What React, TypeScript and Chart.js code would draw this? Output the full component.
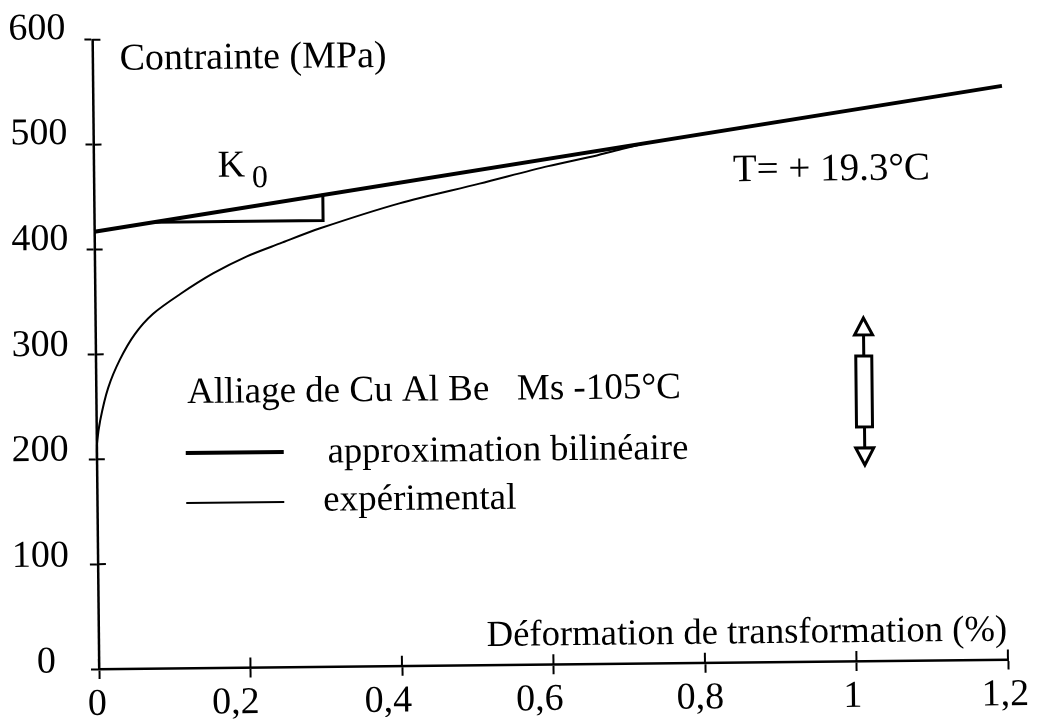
import React, { useEffect, useRef } from "react";
import { Chart, registerables } from "chart.js";

Chart.register(...registerables);

const FONT = '"Liberation Serif", "Times New Roman", serif';

// Data
const yTicks = ["0", "100", "200", "300", "400", "500", "600"];
const xTickLabels = ["0", "0,2", "0,4", "0,6", "0,8", "1", "1,2"];

const bilinearX = [0, 1.2];
const bilinearY = [417, 547];

const experimentalX = [0, 0.0005, 0.005, 0.016, 0.032, 0.052, 0.076, 0.112, 0.156, 0.201, 0.245, 0.298, 0.403, 0.509, 0.6, 0.66, 0.7, 0.73];
const experimentalY = [201, 215, 237, 268, 295, 319, 338, 356.5, 376, 392, 404, 418, 441, 459, 475, 484, 491, 496];

const slopeX = [0.08, 0.302, 0.302];
const slopeY = [425.5, 425.5, 451];

const xLabelNudge = [-2, -15, -14, -14, -5, -4, -3];
const yLabelNudge = [-7, -8, -9, -9, -10, -11, -11];
const yLabelNudgeX = [-18, -4, -3, -2, -1, -1, -2];

const texts: [string, number, number, number][] = [
  ["Contrainte (MPa)", 126, 70, 38],
  ["K", 223, 178, 38],
  ["0", 257, 189, 32],
  ["T= + 19.3°C", 738, 188, 39],
  ["Alliage de Cu Al Be   Ms -105°C", 190, 404, 37],
  ["approximation bilinéaire", 330, 465, 36.6],
  ["expérimental", 325, 513, 37],
  ["Déformation de transformation (%)", 487, 650, 36.7],
];

const TILT = (-0.6 * Math.PI) / 180;
const PIVOT_X = 99;
const PIVOT_Y = 669;

const scanPlugin = {
  id: "scan",
  beforeDraw(chart: any) {
    const { ctx } = chart;
    ctx.save();
    ctx.translate(PIVOT_X, PIVOT_Y);
    ctx.rotate(TILT);
    ctx.translate(-PIVOT_X, -PIVOT_Y);
    chart.scales.x.getLabelItems().forEach((it: any, i: number) => {
      if (!it.__n) {
        it.options.translation = [it.options.translation[0] + xLabelNudge[i], it.options.translation[1]];
        it.__n = true;
      }
    });
    chart.scales.y.getLabelItems().forEach((it: any, i: number) => {
      if (!it.__n) {
        it.options.translation = [it.options.translation[0] + yLabelNudgeX[i], it.options.translation[1] + yLabelNudge[i]];
        it.__n = true;
      }
    });
  },
  afterDatasetsDraw(chart: any) {
    const { ctx, chartArea, scales } = chart;
    ctx.save();
    ctx.strokeStyle = "#000";
    ctx.fillStyle = "#000";
    ctx.lineCap = "butt";

    // inner halves of the crossing ticks
    ctx.lineWidth = 2;
    scales.y.ticks.forEach((t: any) => {
      const p = scales.y.getPixelForValue(t.value);
      ctx.beginPath();
      ctx.moveTo(chartArea.left, p);
      ctx.lineTo(chartArea.left + 8, p);
      ctx.stroke();
    });
    scales.x.ticks.forEach((t: any) => {
      const p = scales.x.getPixelForValue(t.value);
      ctx.beginPath();
      ctx.moveTo(p, chartArea.bottom);
      ctx.lineTo(p, chartArea.bottom - 10);
      ctx.stroke();
    });

    // legend samples
    ctx.lineWidth = 4;
    ctx.beginPath();
    ctx.moveTo(188, 454);
    ctx.lineTo(286, 454);
    ctx.stroke();
    ctx.lineWidth = 2;
    ctx.beginPath();
    ctx.moveTo(188, 504);
    ctx.lineTo(286, 504);
    ctx.stroke();

    // specimen icon
    const cx = 867;
    const dy = 8;
    ctx.lineWidth = 3;
    ctx.strokeRect(cx - 8, 356 + dy, 16, 71);
    ctx.beginPath();
    ctx.moveTo(cx, 356 + dy);
    ctx.lineTo(cx, 335 + dy);
    ctx.moveTo(cx, 427 + dy);
    ctx.lineTo(cx, 448 + dy);
    ctx.stroke();
    ctx.beginPath();
    ctx.moveTo(cx, 318 + dy);
    ctx.lineTo(cx - 9, 335 + dy);
    ctx.lineTo(cx + 9, 335 + dy);
    ctx.closePath();
    ctx.moveTo(cx, 465 + dy);
    ctx.lineTo(cx - 9, 448 + dy);
    ctx.lineTo(cx + 9, 448 + dy);
    ctx.closePath();
    ctx.stroke();

    // texts
    ctx.textAlign = "left";
    ctx.textBaseline = "alphabetic";
    texts.forEach(([s, x, y, size]) => {
      ctx.font = `${size}px ${FONT}`;
      ctx.fillText(s, x, y);
    });
    ctx.restore();
  },
  afterDraw(chart: any) {
    chart.ctx.restore();
  },
};

export default function App() {
  const ref = useRef<HTMLCanvasElement>(null);
  useEffect(() => {
    const chart = new Chart(ref.current as HTMLCanvasElement, {
      type: "scatter",
      data: {
        datasets: [
          {
            label: "expérimental",
            data: experimentalX.map((x, i) => ({ x, y: experimentalY[i] })),
            showLine: true,
            borderColor: "#000",
            borderWidth: 2,
            pointRadius: 0,
            tension: 0.3,
            clip: false,
          },
          {
            label: "approximation bilinéaire",
            data: bilinearX.map((x, i) => ({ x, y: bilinearY[i] })),
            showLine: true,
            borderColor: "#000",
            borderWidth: 4,
            pointRadius: 0,
            clip: false,
          },
          {
            label: "K0",
            data: slopeX.map((x, i) => ({ x, y: slopeY[i] })),
            showLine: true,
            borderColor: "#000",
            borderWidth: 3,
            pointRadius: 0,
            clip: false,
          },
        ],
      },
      options: {
        responsive: false,
        animation: false,
        layout: { padding: { top: 38, right: 35, left: 0, bottom: 0 } },
        plugins: { legend: { display: false }, tooltip: { enabled: false } },
        scales: {
          x: {
            type: "linear",
            min: 0,
            max: 1.2,
            afterFit: (s: any) => {
              s.height = 51;
            },
            border: { color: "#000", width: 2.5 },
            grid: { drawOnChartArea: false, color: "#000", tickLength: 10, tickWidth: 2 },
            ticks: {
              stepSize: 0.2,
              maxRotation: 0,
              autoSkip: false,
              color: "#000",
              font: { family: FONT, size: 38 },
              padding: 3,
              callback: (_v: any, i: number) => xTickLabels[i],
            },
          },
          y: {
            type: "linear",
            min: 0,
            max: 600,
            afterFit: (s: any) => {
              s.width = 99;
            },
            border: { color: "#000", width: 2.5 },
            grid: { drawOnChartArea: false, color: "#000", tickLength: 8, tickWidth: 2 },
            ticks: {
              stepSize: 100,
              autoSkip: false,
              color: "#000",
              font: { family: FONT, size: 38 },
              padding: 17,
              callback: (_v: any, i: number) => yTicks[i],
            },
          },
        },
      },
      plugins: [scanPlugin],
    } as any);
    return () => chart.destroy();
  }, []);
  return (
    <div style={{ position: "absolute", left: 0, top: 0, width: 1043, height: 720, background: "#fff" }}>
      <canvas ref={ref} width={1043} height={720} style={{ display: "block" }} />
    </div>
  );
}
